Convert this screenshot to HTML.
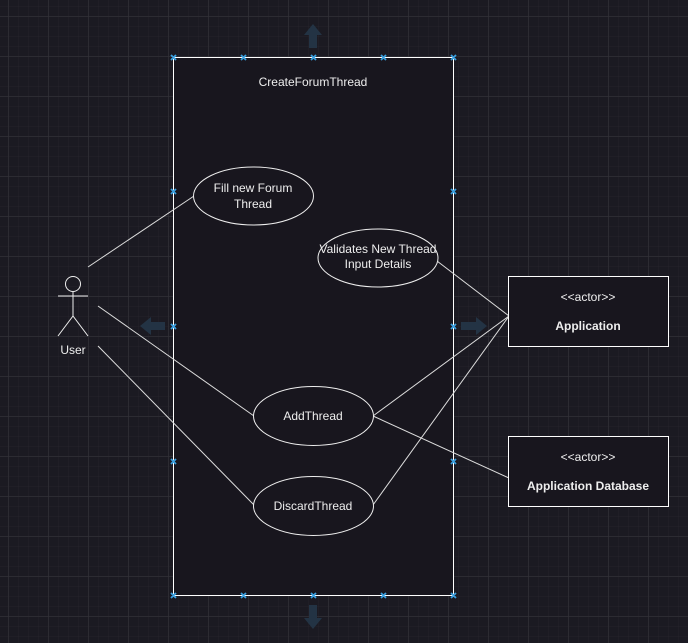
<!DOCTYPE html>
<html><head><meta charset="utf-8"><style>
html,body{margin:0;padding:0;background:#1b1a22;}
svg{display:block;font-family:"Liberation Sans",Arial,sans-serif;}
</style></head><body>
<svg width="688" height="643" viewBox="0 0 688 643" xmlns="http://www.w3.org/2000/svg">
<defs>
<pattern id="minor" x="8" y="6" width="10" height="10" patternUnits="userSpaceOnUse">
<path d="M0 0H10M0 0V10" stroke="#24232b" stroke-width="1" fill="none"/>
</pattern>
<pattern id="major" x="8.5" y="16.5" width="40" height="40" patternUnits="userSpaceOnUse">
<path d="M0 0H40M0 0V40" stroke="#34333a" stroke-width="1" fill="none"/>
</pattern>
</defs>
<rect width="688" height="643" fill="#1b1a22"/>
<rect width="688" height="643" fill="url(#minor)"/>
<rect width="688" height="643" fill="url(#major)"/>

<g fill="#233344">
<polygon points="313,24 322,35 317,35 317,48 309,48 309,35 304,35"/>
<polygon points="313,629 322,618 317,618 317,605 309,605 309,618 304,618"/>
<polygon points="140,326 151,317 151,322 165,322 165,330 151,330 151,335"/>
<polygon points="487,326 476,317 476,322 461,322 461,330 476,330 476,335"/>
</g>

<rect x="173.5" y="57.5" width="280" height="538" fill="#18161e" stroke="#fff" stroke-width="1"/>
<text x="313" y="86" fill="#eee" font-size="12" text-anchor="middle">CreateForumThread</text>

<g stroke="#ddd" stroke-width="1" fill="none">
<line x1="88" y1="267" x2="194" y2="196"/>
<line x1="98" y1="306" x2="254" y2="416"/>
<line x1="98" y1="346" x2="254" y2="505"/>
<line x1="437" y1="261" x2="509" y2="316"/>
<line x1="373" y1="416" x2="509" y2="316"/>
<line x1="373" y1="505" x2="509" y2="316"/>
<line x1="373" y1="416" x2="509" y2="478"/>
</g>

<g stroke="#eee" stroke-width="1" fill="#18161e">
<ellipse cx="253.5" cy="196" rx="60" ry="29"/>
<ellipse cx="378" cy="258" rx="60" ry="29"/>
<ellipse cx="313.5" cy="416" rx="60" ry="29.5"/>
<ellipse cx="313.5" cy="506" rx="60" ry="29.5"/>
</g>
<g fill="#eee" font-size="12" text-anchor="middle">
<text x="253" y="192">Fill new Forum</text>
<text x="253" y="208">Thread</text>
<text x="378" y="253">Validates New Thread</text>
<text x="378" y="268">Input Details</text>
<text x="313" y="420">AddThread</text>
<text x="313" y="510">DiscardThread</text>
</g>

<g stroke="#eee" stroke-width="1" fill="none">
<circle cx="73" cy="284" r="7.5"/>
<line x1="73" y1="292" x2="73" y2="316"/>
<line x1="58" y1="296" x2="88" y2="296"/>
<line x1="73" y1="316" x2="58" y2="336"/>
<line x1="73" y1="316" x2="88" y2="336"/>
</g>
<text x="73" y="354" fill="#eee" font-size="12" text-anchor="middle">User</text>

<g stroke="#fff" stroke-width="1" fill="#18161e">
<rect x="508.5" y="276.5" width="160" height="70"/>
<rect x="508.5" y="436.5" width="160" height="70"/>
</g>
<g fill="#eee" font-size="12" text-anchor="middle">
<text x="588" y="301">&lt;&lt;actor&gt;&gt;</text>
<text x="588" y="330" font-weight="bold">Application</text>
<text x="588" y="461">&lt;&lt;actor&gt;&gt;</text>
<text x="588" y="490" font-weight="bold">Application Database</text>
</g>

<g stroke="#3aa0e0" stroke-width="1.8">
<path d="M171 55l5 5M176 55l-5 5 M241 55l5 5M246 55l-5 5 M311 55l5 5M316 55l-5 5 M381 55l5 5M386 55l-5 5 M451 55l5 5M456 55l-5 5"/>
<path d="M171 593l5 5M176 593l-5 5 M241 593l5 5M246 593l-5 5 M311 593l5 5M316 593l-5 5 M381 593l5 5M386 593l-5 5 M451 593l5 5M456 593l-5 5"/>
<path d="M171 189l5 5M176 189l-5 5 M171 324l5 5M176 324l-5 5 M171 459l5 5M176 459l-5 5"/>
<path d="M451 189l5 5M456 189l-5 5 M451 324l5 5M456 324l-5 5 M451 459l5 5M456 459l-5 5"/>
</g>
</svg>
</body></html>
